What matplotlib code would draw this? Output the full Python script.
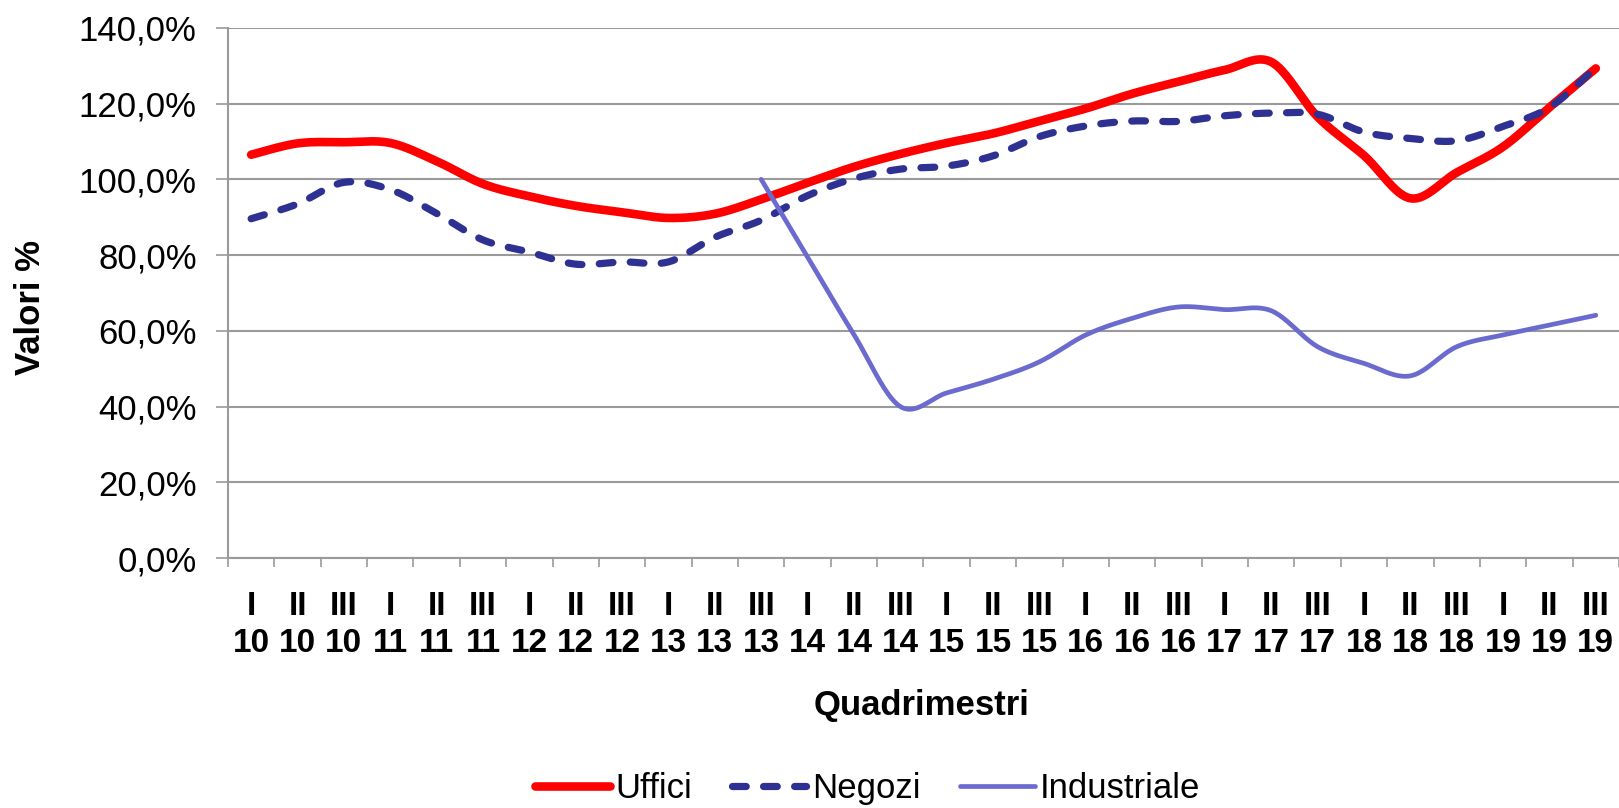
import numpy as np
import matplotlib

matplotlib.use("agg")
import matplotlib.pyplot as plt
from matplotlib.ticker import FixedLocator, FuncFormatter

plt.rcParams["font.family"] = ["Liberation Sans", "DejaVu Sans"]

# categorie: quadrimestre + anno
periodi = ["I", "II", "III"]
anni = ["10", "11", "12", "13", "14", "15", "16", "17", "18", "19"]
etichette = [f"{p}\n{a}" for a in anni for p in periodi]

uffici = [106.5, 109.5, 109.8, 109.6, 104.8, 98.8, 95.5, 93.0, 91.3, 89.8,
          90.9, 94.7, 99.1, 103.3, 106.7, 109.6, 112.1, 115.4, 118.7, 122.6,
          125.8, 128.9, 131.0, 116.5, 106.3, 95.0, 101.8, 108.6, 119.0, 129.3]
negozi = [89.6, 93.5, 99.2, 97.3, 91.0, 84.0, 80.8, 77.6, 78.2, 78.2,
          84.7, 89.2, 95.7, 100.2, 102.7, 103.5, 106.2, 111.3, 114.1, 115.4,
          115.3, 116.8, 117.5, 117.2, 112.5, 110.8, 110.2, 114.0, 119.0, 129.5]
industriale = [np.nan] * 11 + [100.0, 79.5, 59.0, 40.0, 43.6, 47.2, 51.8, 58.9,
                               63.3, 66.3, 65.6, 65.3, 55.8, 51.4, 48.1, 55.8,
                               58.9, 61.5, 64.1]


def smooth(values, n=24):
    """Linea smussata stile Excel (Bezier Catmull-Rom tra i punti)."""
    y = np.asarray(values, dtype=float)
    x = np.arange(len(y), dtype=float)
    ok = ~np.isnan(y)
    x, y = x[ok], y[ok]
    px = np.concatenate([[x[0]], x, [x[-1]]])
    py = np.concatenate([[y[0]], y, [y[-1]]])
    t = np.linspace(0, 1, n)[:, None]
    xs, ys = [], []
    for i in range(1, len(px) - 2):
        p0 = np.array([px[i], py[i]])
        p3 = np.array([px[i + 1], py[i + 1]])
        c1 = p0 + (np.array([px[i + 1], py[i + 1]]) - np.array([px[i - 1], py[i - 1]])) / 6
        c2 = p3 - (np.array([px[i + 2], py[i + 2]]) - np.array([px[i], py[i]])) / 6
        pts = ((1 - t) ** 3) * p0 + 3 * ((1 - t) ** 2) * t * c1 + 3 * (1 - t) * t ** 2 * c2 + t ** 3 * p3
        xs.append(pts[:, 0])
        ys.append(pts[:, 1])
    return np.concatenate(xs), np.concatenate(ys)


fig = plt.figure(figsize=(16.19, 8.08), dpi=100)
ax = fig.add_axes([0.1408, 0.3094, 0.8592, 0.6561])

grid_col = "#9a9a9a"
ax.set_ylim(0, 140)
ax.set_xlim(-0.5, len(etichette) - 0.5)
ax.yaxis.set_major_locator(FixedLocator(np.arange(0, 141, 20)))
ax.yaxis.set_major_formatter(FuncFormatter(lambda v, _: f"{v:.1f}%".replace(".", ",")))
ax.grid(axis="y", color=grid_col, linewidth=1.5)
ax.set_axisbelow(True)

for s in ("top", "right"):
    ax.spines[s].set_visible(False)
for s in ("left", "bottom"):
    ax.spines[s].set_color(grid_col)
    ax.spines[s].set_linewidth(1.5)

# tacche ai confini delle categorie, etichette al centro
ax.xaxis.set_major_locator(FixedLocator(np.arange(-0.5, len(etichette), 1.0)))
ax.xaxis.set_major_formatter(FuncFormatter(lambda v, _: ""))
ax.xaxis.set_minor_locator(FixedLocator(np.arange(len(etichette))))
ax.set_xticklabels(etichette, minor=True)
ax.tick_params(axis="x", which="major", length=6.5, width=1.2, color=grid_col, direction="out")
ax.tick_params(axis="x", which="minor", length=0, pad=24, labelsize=24)
for lab in ax.get_xticklabels(minor=True):
    lab.set_fontweight("bold")
    lab.set_linespacing(1.22)
ax.tick_params(axis="y", length=8.5, width=1.2, color=grid_col, pad=14, labelsize=25)

x, y = smooth(uffici)
ax.plot(x, y, color="#ff0000", linewidth=6.2, solid_capstyle="round", label="Uffici")
x, y = smooth(negozi)
ax.plot(x, y, color="#2e3192", linewidth=5.2, linestyle=(0, (1.9, 2.4)),
        dash_capstyle="round", label="Negozi")
x, y = smooth(industriale)
ax.plot(x, y, color="#6b6bcf", linewidth=3.4, solid_capstyle="round", label="Industriale")

fig.text(0.5695, 0.127, "Quadrimestri", ha="center", va="center", fontsize=25, fontweight="bold")
fig.text(0.019, 0.62, "Valori %", ha="center", va="center", rotation=90, fontsize=25, fontweight="bold")

fig.legend(loc="center", bbox_to_anchor=(0.536, 0.024), ncol=3, frameon=False, fontsize=25,
           handlelength=2.15, handletextpad=0.15, columnspacing=1.15, borderpad=0)

fig.savefig("out.png", dpi=100, facecolor="white")
plt.close(fig)
